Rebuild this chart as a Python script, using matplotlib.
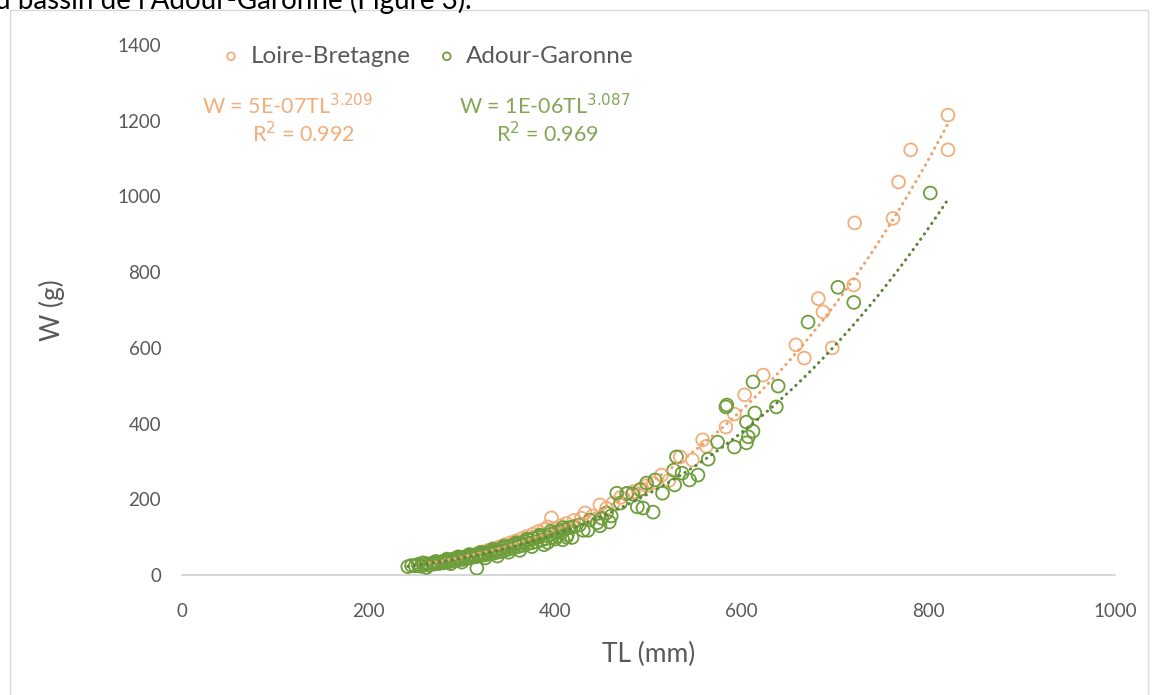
import numpy as np
import matplotlib.pyplot as plt
from matplotlib.patches import Rectangle

# Loire-Bretagne
lb_tl = [265, 272, 280, 286, 292, 298, 304, 310, 316, 322, 328, 334, 340, 346, 352,
         358, 364, 370, 376, 382, 388, 392, 396, 400, 406, 412, 420, 428, 432, 440,
         448, 455, 462, 470, 476, 484, 492, 498, 505, 514, 522, 534, 547, 558, 562,
         583, 592, 603, 623, 658, 667, 682, 687, 697, 720, 721, 762, 768, 781, 821, 821]
lb_w = [27, 30, 34, 37, 41, 44, 49, 52, 56, 61, 65, 70, 74, 80, 85,
        90, 96, 102, 108, 115, 120, 127, 151, 124, 130, 136, 144, 150, 164, 156,
        185, 176, 190, 205, 214, 220, 228, 236, 243, 264, 250, 312, 304, 357, 340,
        391, 425, 476, 528, 608, 573, 730, 695, 600, 766, 930, 942, 1038, 1123, 1215, 1123]

# Adour-Garonne
ag_tl = [242, 246, 250, 253, 256, 259, 262, 265, 268, 270, 273, 275, 278, 280, 282,
         285, 287, 290, 292, 295, 297, 300, 302, 305, 307, 310, 312, 315, 316, 318,
         320, 322, 325, 327, 330, 332, 335, 337, 340, 342, 345, 347, 350, 352, 355,
         357, 360, 362, 365, 367, 370, 372, 375, 377, 380, 382, 385, 387, 390, 392,
         395, 397, 400, 403, 405, 408, 410, 413, 415, 418, 420, 426, 430, 437, 445,
         450, 455, 460, 466, 470, 477, 483, 488, 491, 494, 498, 505, 507, 515, 527,
         528, 530, 536, 544, 553, 564, 574, 583, 584, 592, 605, 607, 605, 612, 612,
         614, 637, 639, 671, 703, 720, 802,
         258, 262, 272, 284, 288, 296, 300, 308, 320, 325, 333, 338, 345, 350, 358,
         362, 370, 375, 383, 388, 395, 400, 408, 412, 435, 448, 458]
ag_w = [22, 25, 24, 28, 23, 27, 30, 26, 31, 29, 33, 30, 35, 32, 38,
        34, 40, 37, 43, 39, 45, 41, 47, 43, 50, 46, 52, 48, 18, 54,
        51, 57, 53, 60, 55, 63, 58, 66, 61, 70, 64, 73, 68, 77, 71,
        80, 75, 84, 78, 88, 82, 92, 85, 96, 88, 100, 92, 104, 96, 86,
        108, 99, 112, 103, 116, 93, 120, 106, 125, 99, 128, 132, 118, 145, 138,
        150, 164, 156, 216, 190, 216, 214, 180, 225, 177, 243, 166, 251, 216, 277,
        238, 312, 269, 251, 264, 306, 351, 444, 449, 338, 349, 365, 404, 380, 510,
        428, 444, 499, 668, 760, 720, 1009,
        32, 20, 36, 42, 30, 48, 34, 54, 60, 45, 68, 50, 76, 60, 85,
        65, 95, 75, 105, 80, 115, 95, 125, 100, 118, 130, 140]

# trendline coefficients (power fits) and fitted TL range
lb_a, lb_b = 5.3e-07, 3.209
ag_a, ag_b = 1.0e-06, 3.087
lb_range = [265, 821]
ag_range = [242, 821]

x_ticks = [0, 200, 400, 600, 800, 1000]
y_ticks = [0, 200, 400, 600, 800, 1000, 1200, 1400]

orange = "#F2AE7A"
orange_line = "#EDA26A"
green = "#6E9E3C"
green_line = "#5D8439"
green_text = "#86A657"
grey = "#595959"

plt.rcParams['font.family'] = ['Lato', 'DejaVu Sans']

fig = plt.figure(figsize=(11.52, 6.95), dpi=100)
ax = fig.add_axes([182 / 1152, 1 - 575 / 695, (1115 - 182) / 1152, (575 - 45) / 695])

ax.scatter(lb_tl, lb_w, s=85, facecolors='none', edgecolors=orange, linewidths=1.3,
           label="Loire-Bretagne", zorder=2)
ax.scatter(ag_tl, ag_w, s=85, facecolors='none', edgecolors=green, linewidths=1.3,
           label="Adour-Garonne", zorder=3)

xs = np.linspace(lb_range[0], lb_range[1], 200)
ax.plot(xs, lb_a * xs ** lb_b, color=orange_line, lw=2.2, linestyle=(0, (0.1, 2.0)),
        dash_capstyle='round', zorder=4)
xs = np.linspace(ag_range[0], ag_range[1], 200)
ax.plot(xs, ag_a * xs ** ag_b, color=green_line, lw=2.2, linestyle=(0, (0.1, 2.0)),
        dash_capstyle='round', zorder=4)

ax.set_xlim(0, 1000)
ax.set_ylim(0, 1400)
ax.set_xticks(x_ticks)
ax.set_yticks(y_ticks)
ax.tick_params(length=0, labelsize=13.5, colors=grey)
ax.tick_params(axis='x', pad=20)
ax.tick_params(axis='y', pad=15)
for s in ['top', 'right', 'left']:
    ax.spines[s].set_visible(False)
ax.spines['bottom'].set_color("#d0d0d0")
ax.spines['bottom'].set_linewidth(1.2)

ax.set_xlabel("TL (mm)", fontsize=19, color=grey, labelpad=16)
ax.set_ylabel("W (g)", fontsize=19, color=grey, labelpad=38)

leg = ax.legend(loc='upper left', bbox_to_anchor=(0.003, 1.04), ncol=2, frameon=False,
                fontsize=17.5, handletextpad=-0.2, columnspacing=0.5, markerscale=0.6)
for t in leg.get_texts():
    t.set_color(grey)

ax.text(0.113, 0.885, r"W = 5E-07TL$^{3.209}$", transform=ax.transAxes, ha='center',
        va='center', fontsize=15.5, color=orange)
ax.text(0.130, 0.832, r"R$^{2}$ = 0.992", transform=ax.transAxes, ha='center',
        va='center', fontsize=15.5, color=orange)
ax.text(0.389, 0.885, r"W = 1E-06TL$^{3.087}$", transform=ax.transAxes, ha='center',
        va='center', fontsize=15.5, color=green_text)
ax.text(0.392, 0.832, r"R$^{2}$ = 0.969", transform=ax.transAxes, ha='center',
        va='center', fontsize=15.5, color=green_text)

# chart frame and clipped text from the page above
fig.patches.append(Rectangle((10 / 1152, -0.01), 1138 / 1152, 1 - 10 / 695 + 0.01,
                             transform=fig.transFigure, fill=False,
                             edgecolor="#d9d9d9", lw=1.0))
fig.text(-0.004, 1 - 9 / 695, "u bassin de l\u2019Adour-Garonne (Figure 3).",
         fontsize=20, color="black", va='baseline', ha='left')

fig.savefig("out.png", dpi=100)
